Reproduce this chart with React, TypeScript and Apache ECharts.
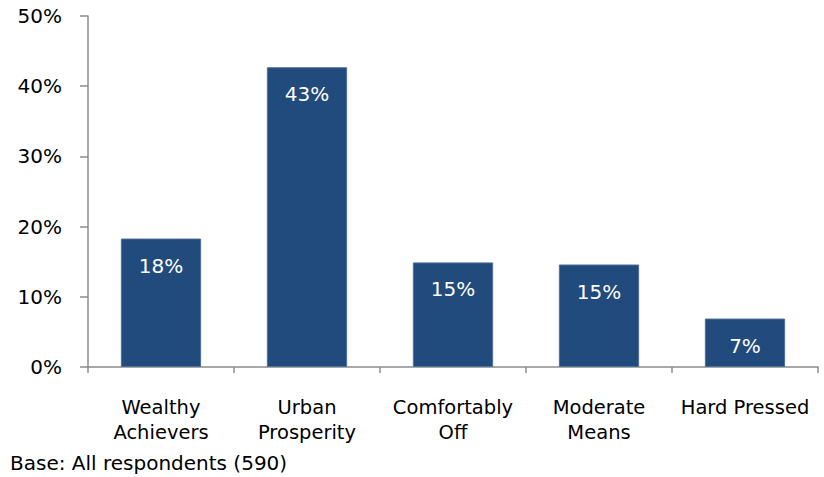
import React, { useEffect, useRef } from "react";
import * as echarts from "echarts";

const categories = ["Wealthy\nAchievers", "Urban\nProsperity", "Comfortably\nOff", "Moderate\nMeans", "Hard Pressed"];
const values = [18.3, 42.7, 14.9, 14.6, 6.9];
const yTicks = { min: 0, max: 50, interval: 10 };
const baseNote = "Base: All respondents (590)";

const FONT = "DejaVu Sans";

export default function App() {
  const ref = useRef<HTMLDivElement>(null);
  useEffect(() => {
    if (!ref.current) return;
    const chart = echarts.init(ref.current, undefined, { renderer: "svg" });
    chart.setOption({
      animation: false,
      backgroundColor: "#ffffff",
      textStyle: { fontFamily: FONT },
      grid: { left: 88, right: 6, top: 16, bottom: 110, containLabel: false },
      xAxis: {
        type: "category",
        data: categories,
        axisLine: { show: true, lineStyle: { color: "#8c8c8c", width: 1.5 } },
        axisTick: { show: true, alignWithLabel: false, length: 6, lineStyle: { color: "#8c8c8c", width: 1.5 } },
        axisLabel: { color: "#000", fontSize: 19.5, fontFamily: FONT, margin: 28, lineHeight: 25, interval: 0 },
        splitLine: { show: false },
      },
      yAxis: {
        type: "value",
        min: yTicks.min,
        max: yTicks.max,
        interval: yTicks.interval,
        axisLine: { show: true, lineStyle: { color: "#8c8c8c", width: 1.5 } },
        axisTick: { show: true, length: 8, lineStyle: { color: "#8c8c8c", width: 1.5 } },
        axisLabel: { color: "#000", fontSize: 20, fontFamily: FONT, margin: 26, formatter: "{value}%" },
        splitLine: { show: false },
      },
      series: [
        {
          type: "bar",
          data: values,
          barWidth: "55%",
          itemStyle: { color: "#214a7d", borderColor: "#4f6f98", borderWidth: 1 },
          label: {
            show: true,
            position: "insideTop",
            distance: 17,
            color: "#fff",
            fontSize: 20,
            fontFamily: FONT,
            formatter: (p: any) => Math.round(p.value) + "%",
          },
        },
      ],
      graphic: [
        {
          type: "text",
          left: 10,
          top: 453,
          style: { text: baseNote, fontSize: 20, fontFamily: FONT, fill: "#000" },
        },
      ],
    });
    return () => chart.dispose();
  }, []);
  return <div ref={ref} style={{ position: "fixed", left: 0, top: 0, width: 824, height: 477 }} />;
}
